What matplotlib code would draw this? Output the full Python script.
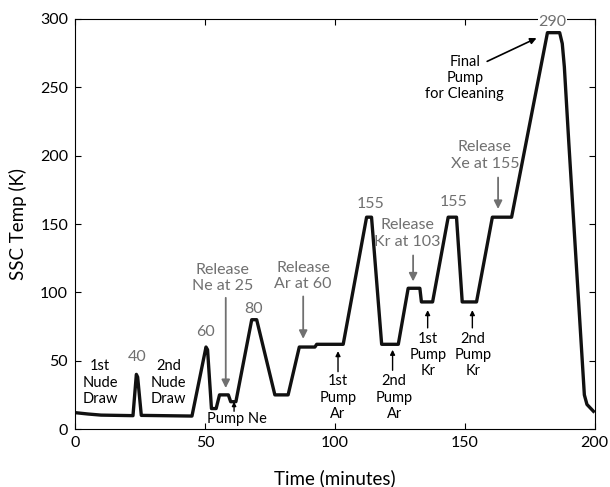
import matplotlib
matplotlib.use("Agg")
import matplotlib.pyplot as plt

time_min = [0, 5, 10, 22.3, 23.6, 24.1, 25.5, 45, 50.4, 51.0, 52.5, 54.3, 55.6, 59.0,
            59.9, 61.9, 68.0, 69.9, 76.9, 82.0, 86.3, 92.3, 93.0, 103.2, 112.2, 114.1,
            118.0, 124.4, 128.2, 132.7, 133.3, 137.6, 143.6, 146.8, 149.0, 154.5, 160.6,
            168.0, 181.8, 186.5, 187.5, 188.3, 190.0, 196.0, 197.0, 199.5]
temp_k = [12, 11, 10.2, 9.8, 40, 38, 10, 9.5, 60, 58, 15, 15, 25, 25,
          20, 20, 80, 80, 25, 25, 60, 60, 62, 62, 155, 155,
          62, 62, 103, 103, 93, 93, 155, 155, 93, 93, 155,
          155, 290, 290, 282, 265, 210, 25, 18, 13]

xticks = [0, 50, 100, 150, 200]
yticks = [0, 50, 100, 150, 200, 250, 300]

# gray value labels: (text, x, y)
value_labels = [("40", 24, 53), ("60", 50.3, 71), ("80", 68.8, 88),
                ("155", 113.7, 165), ("155", 145.5, 166), ("290", 183.7, 298)]
# black plain labels: (text, x, y)
black_labels = [("1st\nNude\nDraw", 9.6, 34), ("2nd\nNude\nDraw", 35.9, 34)]
# gray release annotations: (text, text x, text y, arrow x, arrow start y, arrow tip y)
release_notes = [("Release\nNe at 25", 56.8, 110.5, 58.0, 96, 30),
                 ("Release\nAr at 60", 87.8, 112, 87.8, 97, 66),
                 ("Release\nKr at 103", 128.0, 143, 130.1, 127, 108),
                 ("Release\nXe at 155", 157.7, 200, 162.8, 184, 161)]
# black pump annotations: (text, text x, text y, arrow x, arrow start y, arrow tip y)
pump_notes = [("1st\nPump\nAr", 101.2, 23, 101.2, 42, 57),
              ("2nd\nPump\nAr", 122.8, 23, 122.2, 43, 58),
              ("1st\nPump\nKr", 135.9, 54, 135.7, 74, 87),
              ("2nd\nPump\nKr", 153.2, 54, 152.9, 74, 87)]

plt.rcParams['font.family'] = ['Lato', 'DejaVu Sans']
gray = '#707070'

fig = plt.figure(figsize=(6.1, 4.87), dpi=100)
ax = fig.add_axes([0.123, 0.119, 0.852, 0.842])
ax.plot(time_min, temp_k, color='#111111', lw=2.4, solid_joinstyle='round')
ax.set_xlim(0, 200)
ax.set_ylim(0, 300)
ax.set_xticks(xticks)
ax.set_yticks(yticks)
ax.tick_params(direction='in', top=True, right=True, labelsize=11.5, length=4, pad=5)
ax.set_xlabel('Time (minutes)', fontsize=13.5, labelpad=14)
ax.set_ylabel('SSC Temp (K)', fontsize=13.5, labelpad=9)

for txt, x, y in value_labels:
    kw = {}
    if txt == "290":
        kw['bbox'] = dict(facecolor='white', edgecolor='none', pad=0.5)
    ax.text(x, y, txt, color=gray, fontsize=11.5, ha='center', va='center', zorder=5, **kw)

for txt, x, y in black_labels:
    ax.text(x, y, txt, color='black', fontsize=10.5, ha='center', va='center',
            linespacing=1.2)

for txt, tx, ty, ax_x, y0, y1 in release_notes:
    ax.text(tx, ty, txt, color=gray, fontsize=11.5, ha='center', va='center',
            linespacing=1.25)
    ax.annotate('', xy=(ax_x, y1), xytext=(ax_x, y0),
                arrowprops=dict(arrowstyle='-|>', color=gray, lw=1.3,
                                mutation_scale=12, shrinkA=0, shrinkB=0))

for txt, tx, ty, ax_x, y0, y1 in pump_notes:
    ax.text(tx, ty, txt, color='black', fontsize=10.5, ha='center', va='center',
            linespacing=1.2)
    ax.annotate('', xy=(ax_x, y1), xytext=(ax_x, y0),
                arrowprops=dict(arrowstyle='-|>', color='black', lw=1.0,
                                mutation_scale=7, shrinkA=0, shrinkB=0))

# Pump Ne
ax.text(62.3, 7.3, "Pump Ne", color='black', fontsize=10.5, ha='center', va='center')
ax.annotate('', xy=(61.2, 20), xytext=(61.2, 13),
            arrowprops=dict(arrowstyle='-|>', color='black', lw=1.0,
                            mutation_scale=6, shrinkA=0, shrinkB=0))

# Final pump
ax.text(150, 257, "Final\nPump\nfor Cleaning", color='black', fontsize=10.5,
        ha='center', va='center', linespacing=1.2)
ax.annotate('', xy=(177.6, 286), xytext=(158.6, 269),
            arrowprops=dict(arrowstyle='-|>', color='black', lw=1.2,
                            mutation_scale=9, shrinkA=0, shrinkB=0))

fig.savefig('out.png', dpi=100)
